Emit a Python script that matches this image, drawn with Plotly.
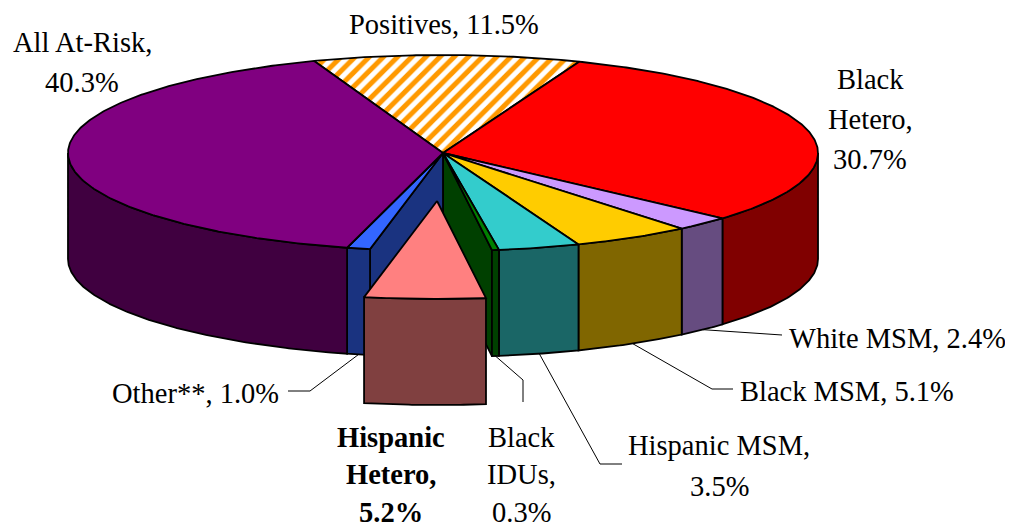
import numpy as np
import plotly.graph_objects as go

# ---------------- data ----------------
labels = ["Positives", "Black Hetero", "White MSM", "Black MSM", "Hispanic MSM",
          "Black IDUs", "Hispanic Hetero", "Other**", "All At-Risk"]
values = [11.5, 30.7, 2.4, 5.1, 3.5, 0.3, 5.2, 1.0, 40.3]
label_lines = [
    ["Positives, 11.5%"],
    ["Black", "Hetero,", "30.7%"],
    ["White MSM, 2.4%"],
    ["Black MSM, 5.1%"],
    ["Hispanic MSM,", "3.5%"],
    ["Black", "IDUs,", "0.3%"],
    ["Hispanic", "Hetero,", "5.2%"],
    ["Other**, 1.0%"],
    ["All At-Risk,", "40.3%"],
]

# ---------------- style ----------------
top_colors = ["#FFFFFF", "#FF0000", "#CC99FF", "#FFCC00", "#33CCCC",
              "#008000", "#FF8080", "#3366FF", "#800080"]
side_colors = ["#808080", "#800000", "#664C80", "#806600", "#1A6666",
               "#004000", "#804040", "#1A3380", "#400040"]
EXPLODED = 6
EXPLODE_FRAC = 0.49
CX, CY, RX, RY, DEPTH = 443.0, 153.0, 375.0, 98.0, 106.0
START = -20.1        # degrees clockwise from 12 o'clock
FONT = "Liberation Serif, Times New Roman, serif"
FS = 28.5
LINE_W = 1.8
PAGE_OFF = 8         # default body margin of the page

# label placement: (x, anchor, [y of each line], leader waypoints after the slice anchor)
label_pos = [
    (444, "center", [24], None),
    (870, "center", [79, 119, 159], None),
    (787, "left", [338], [(782, 335)]),
    (738, "left", [391], [(712, 389), (733, 389)]),
    (719, "center", [445, 486], [(600, 464), (622, 464)]),
    (521.5, "center", [437, 474, 512], [(523, 380), (523, 402)]),
    (391, "center", [437, 474, 512], None),
    (281, "right", [393], [(310, 391), (288, 391)]),
    (82, "center", [42, 82], None),
]

# ---------------- geometry from values ----------------
total = sum(values)
angles = [START]
for v in values:
    angles.append(angles[-1] + v / total * 360.0)


def pt(t_deg, off=(0.0, 0.0), dz=0.0):
    t = np.radians(t_deg)
    return CX + off[0] + RX * np.sin(t), CY + off[1] - RY * np.cos(t) + dz


def arc(a1, a2, off=(0.0, 0.0), dz=0.0, n=None):
    n = n or max(4, int(abs(a2 - a1) * 2) + 2)
    ts = np.linspace(a1, a2, n)
    xs, ys = pt(ts, off, dz)
    return list(xs), list(ys)


def offset_for(i):
    if i != EXPLODED:
        return (0.0, 0.0)
    m = np.radians((angles[i] + angles[i + 1]) / 2)
    return (EXPLODE_FRAC * RX * np.sin(m), -EXPLODE_FRAC * RY * np.cos(m))


fig = go.Figure()


def poly(xs, ys, color, pattern=None):
    kw = dict(x=xs + [xs[0]], y=ys + [ys[0]], mode="lines", fill="toself",
              fillcolor=color, line=dict(color="black", width=LINE_W),
              hoverinfo="skip", showlegend=False)
    if pattern:
        kw["fillpattern"] = pattern
    fig.add_trace(go.Scatter(**kw))


# radial walls of the neighbours exposed by the exploded slice
for i, ang in [(EXPLODED - 1, angles[EXPLODED]), (EXPLODED + 1, angles[EXPLODED + 1])]:
    ex, ey = pt(ang)
    poly([CX, ex, ex, CX], [CY, ey, ey + DEPTH, CY + DEPTH], side_colors[i])


def side(i):
    off = offset_for(i)
    a1, a2 = angles[i], angles[i + 1]
    s, e = max(a1, 90.0), min(a2, 270.0)
    if e <= s:
        return
    tx, ty = arc(s, e, off)
    bx, by = arc(e, s, off, DEPTH)
    poly(tx + bx, ty + by, side_colors[i])


def top(i):
    off = offset_for(i)
    ax, ay = arc(angles[i], angles[i + 1], off)
    pattern = None
    if i == 0:
        pattern = dict(shape="/", fgcolor="#FF9900", bgcolor="#FFFFFF",
                       fgopacity=1, size=10, solidity=0.5)
    poly([CX + off[0]] + ax, [CY + off[1]] + ay, top_colors[i], pattern)


for i in range(len(values)):
    if i != EXPLODED:
        side(i)
for i in range(len(values)):
    if i != EXPLODED:
        top(i)
side(EXPLODED)
top(EXPLODED)

# ---------------- labels and leader lines ----------------
annotations = []
for i, (lx, anchor, ys, leader) in enumerate(label_pos):
    bold = i == EXPLODED
    for line, ly in zip(label_lines[i], ys):
        txt = f"<b>{line}</b>" if bold else line
        annotations.append(dict(x=lx, y=ly, xref="x", yref="y", text=txt,
                                showarrow=False, xanchor=anchor, yanchor="middle",
                                font=dict(family=FONT, size=FS, color="black")))
    if leader:
        m = (angles[i] + angles[i + 1]) / 2
        sx, sy = pt(m, offset_for(i), DEPTH)
        xs = [sx] + [p[0] for p in leader]
        ys_ = [sy] + [p[1] for p in leader]
        fig.add_trace(go.Scatter(x=xs, y=ys_, mode="lines",
                                 line=dict(color="black", width=1),
                                 hoverinfo="skip", showlegend=False))

fig.update_layout(
    width=1013, height=527,
    margin=dict(l=0, r=0, t=0, b=0),
    paper_bgcolor="white", plot_bgcolor="white",
    showlegend=False,
    annotations=annotations,
    xaxis=dict(range=[PAGE_OFF, 1013 + PAGE_OFF], visible=False, fixedrange=True),
    yaxis=dict(range=[527 + PAGE_OFF, PAGE_OFF], visible=False, fixedrange=True),
)

fig.write_html("out.html")
